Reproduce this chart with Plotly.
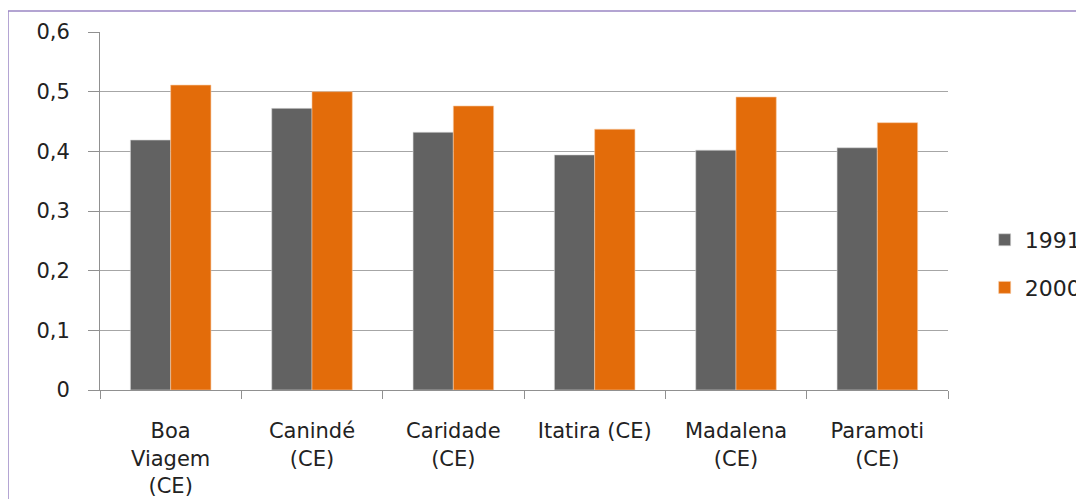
import plotly.graph_objects as go

categories = ["Boa<br>Viagem<br>(CE)", "Canindé<br>(CE)", "Caridade<br>(CE)", "Itatira (CE)", "Madalena<br>(CE)", "Paramoti<br>(CE)"]
values_1991 = [0.419, 0.472, 0.432, 0.394, 0.402, 0.406]
values_2000 = [0.511, 0.500, 0.476, 0.437, 0.491, 0.448]
series_names = ["1991", "2000"]
y_tick_vals = [0, 0.1, 0.2, 0.3, 0.4, 0.5, 0.6]
y_tick_text = ["0", "0,1", "0,2", "0,3", "0,4", "0,5", "0,6"]

fig = go.Figure()
fig.add_trace(go.Bar(x=categories, y=values_1991, name=series_names[0], legendgroup="a",
                     marker=dict(color="#626262", line=dict(color="#d8d8d8", width=0.6))))
fig.add_trace(go.Bar(x=categories, y=values_2000, name=series_names[1], legendgroup="b",
                     marker=dict(color="#E36C0A", line=dict(color="#f6c7a0", width=0.6))))

fig.update_layout(
    width=1084, height=499,
    margin=dict(l=92, r=144, t=24, b=117, autoexpand=False),
    paper_bgcolor="white", plot_bgcolor="white",
    barmode="group", bargap=0.43, bargroupgap=0,
    showlegend=True,
    legend=dict(xref="container", yref="container", x=0.901, xanchor="left",
                y=0.487, yanchor="middle",
                font=dict(family="DejaVu Sans", size=22, color="#222"),
                tracegroupgap=16, traceorder="grouped"),
    font=dict(family="DejaVu Sans", color="#222"),
    xaxis=dict(showgrid=False, ticks="outside", tickson="boundaries", ticklen=8,
               tickcolor="#909090", showline=True, linecolor="#909090",
               tickfont=dict(family="DejaVu Sans", size=21, color="#222"),
               ticklabelstandoff=22, tickangle=0, automargin=False),
    yaxis=dict(range=[0, 0.6], tickvals=y_tick_vals, ticktext=y_tick_text,
               showgrid=True, gridcolor="#a6a6a6", gridwidth=1,
               showline=True, linecolor="#909090", ticks="outside", ticklen=11,
               tickcolor="#909090", zeroline=False, ticklabelstandoff=14,
               automargin=False,
               tickfont=dict(family="DejaVu Sans", size=21, color="#222")),
    shapes=[dict(type="rect", xref="paper", yref="paper",
                 x0=-0.1085, y0=-0.5, x1=1.3, y1=1.0587,
                 line=dict(color="#9a86c4", width=1.5), fillcolor="rgba(0,0,0,0)",
                 layer="below")],
)

fig.write_html("out.html")
